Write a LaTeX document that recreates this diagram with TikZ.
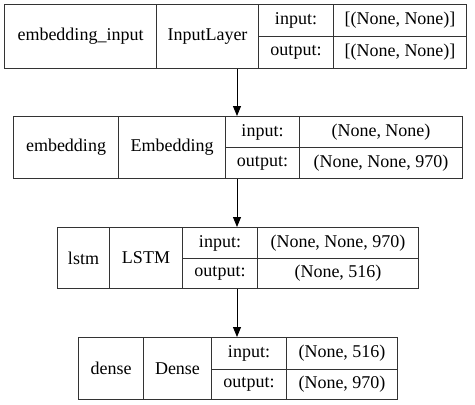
\documentclass[tikz,border=0pt]{standalone}
\usepackage{fontspec}
\setmainfont{Liberation Serif}
\newfontfamily\labelfont{Liberation Serif}
\usetikzlibrary{arrows.meta}
\begin{document}
\begin{tikzpicture}[x=1pt,y=-1pt,
  cell/.style={draw=black!80, line width=1pt, inner sep=0pt, anchor=north west,
    font=\labelfont\fontsize{18}{20}\selectfont},
  flow/.style={draw=black, line width=1pt, -{Triangle[length=10pt,width=8pt]}}]
\useasboundingbox (0,0) rectangle (475,405);
% layer block: name | class | input:/output: | shapes
% embedding_input
\node[cell, minimum width=152pt, minimum height=64pt] (n1) at (4,4) {embedding\_input};
\node[cell, minimum width=102pt, minimum height=64pt] (c1) at (156,4) {InputLayer};
\node[cell, minimum width=75pt, minimum height=32pt] (i1) at (258,4) {input:};
\node[cell, minimum width=75pt, minimum height=32pt] (o1) at (258,36) {output:};
\node[cell, minimum width=133pt, minimum height=32pt] (iv1) at (333,4) {[(None, None)]};
\node[cell, minimum width=133pt, minimum height=32pt] (ov1) at (333,36) {[(None, None)]};
% embedding
\node[cell, minimum width=105pt, minimum height=62pt] (n2) at (13,116) {embedding};
\node[cell, minimum width=107pt, minimum height=62pt] (c2) at (118,116) {Embedding};
\node[cell, minimum width=74pt, minimum height=31pt] (i2) at (225,116) {input:};
\node[cell, minimum width=74pt, minimum height=31pt] (o2) at (225,147) {output:};
\node[cell, minimum width=163pt, minimum height=31pt] (iv2) at (299,116) {(None, None)};
\node[cell, minimum width=163pt, minimum height=31pt] (ov2) at (299,147) {(None, None, 970)};
% lstm
\node[cell, minimum width=52pt, minimum height=61pt] (n3) at (57,227) {lstm};
\node[cell, minimum width=73pt, minimum height=61pt] (c3) at (109,227) {LSTM};
\node[cell, minimum width=75pt, minimum height=31pt] (i3) at (182,227) {input:};
\node[cell, minimum width=75pt, minimum height=30pt] (o3) at (182,258) {output:};
\node[cell, minimum width=161pt, minimum height=31pt] (iv3) at (257,227) {(None, None, 970)};
\node[cell, minimum width=161pt, minimum height=30pt] (ov3) at (257,258) {(None, 516)};
% dense
\node[cell, minimum width=65pt, minimum height=62pt] (n4) at (78,337) {dense};
\node[cell, minimum width=68pt, minimum height=62pt] (c4) at (143,337) {Dense};
\node[cell, minimum width=75pt, minimum height=32pt] (i4) at (211,337) {input:};
\node[cell, minimum width=75pt, minimum height=30pt] (o4) at (211,369) {output:};
\node[cell, minimum width=111pt, minimum height=32pt] (iv4) at (286,337) {(None, 516)};
\node[cell, minimum width=111pt, minimum height=30pt] (ov4) at (286,369) {(None, 970)};
% connectors
\coordinate (ax) at (237,0);
\draw[flow] (c1.south -| ax) -- (i2.north -| ax);
\draw[flow] (o2.south -| ax) -- (i3.north -| ax);
\draw[flow] (o3.south -| ax) -- (i4.north -| ax);
\end{tikzpicture}
\end{document}
